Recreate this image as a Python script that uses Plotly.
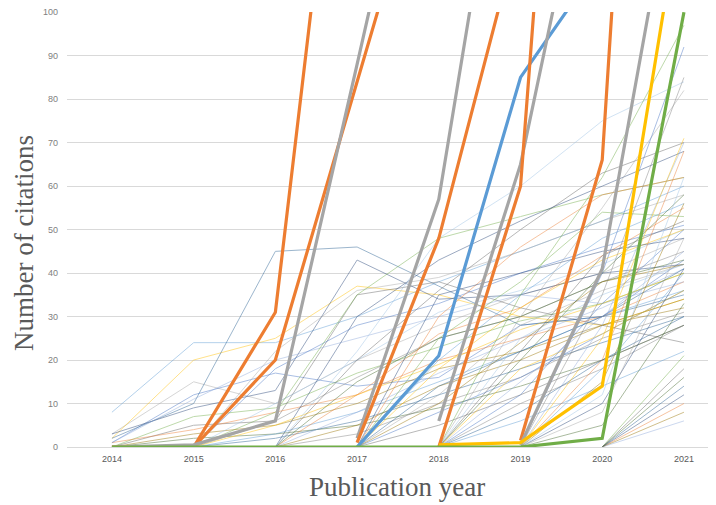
import plotly.graph_objects as go

years = [2014, 2015, 2016, 2017, 2018, 2019, 2020, 2021]
N = None

# thin series (one per publication), values per year
thin_series = [
    [8, 24, 24, 30, 38, 45, 52, 60],
    [3, 15, 10, 20, 28, 35, 40, 48],
    [2, 20, 25, 37, 35, 30, 28, 34],
    [1, 12, 17, 14, 16, 28, 30, 43],
    [0, 7, 9, 17, 23, 29, 33, 40],
    [2, 10, 45, 46, 37, 28, 30, 35],
    [0, 5, 6, 35, 38, 32, 28, 24],
    [1, 4, 8, 12, 20, 25, 30, 38],
    [0, 3, 5, 10, 18, 22, 28, 32],
    [3, 9, 13, 43, 34, 35, 40, 42],
    [1, 11, 20, 25, 30, 35, 33, 38],
    [0, 2, 3, 5, 9, 14, 20, 28],
    [N, 0, 6, 16, 25, 30, 38, 45],
    [N, 0, 10, 20, 31, 36, 42, 50],
    [N, 0, 3, 8, 15, 22, 30, 36],
    [N, 0, 22, 36, 39, 45, 52, 58],
    [N, 0, 5, 12, 19, 27, 33, 40],
    [N, 0, 18, 28, 33, 40, 46, 51],
    [N, 0, 8, 35, 48, 53, 58, 62],
    [N, 0, 2, 6, 12, 18, 24, 30],
    [N, N, 0, 20, 36, 50, 63, 70],
    [N, N, 0, 12, 26, 32, 44, 55],
    [N, N, 0, 5, 14, 20, 28, 34],
    [N, N, 0, 30, 43, 52, 60, 68],
    [N, N, 0, 8, 17, 25, 32, 41],
    [N, N, 0, 15, 25, 30, 38, 43],
    [N, N, 0, 3, 10, 16, 25, 31],
    [N, N, 0, 22, 48, 60, 75, 84],
    [N, N, N, 0, 20, 35, 48, 56],
    [N, N, N, 0, 12, 28, 36, 42],
    [N, N, N, 0, 18, 32, 43, 50],
    [N, N, N, 0, 8, 16, 26, 36],
    [N, N, N, 0, 25, 38, 54, 53],
    [N, N, N, 0, 14, 22, 30, 41],
    [N, N, N, 0, 5, 12, 20, 28],
    [N, N, N, 0, 30, 46, 58, 62],
    [N, N, N, 0, 10, 24, 38, 42],
    [N, N, N, 0, 35, 40, 45, 48],
    [N, N, N, N, 0, 15, 30, 45],
    [N, N, N, N, 0, 20, 40, 58],
    [N, N, N, N, 0, 10, 18, 28],
    [N, N, N, N, 0, 25, 35, 42],
    [N, N, N, N, 0, 6, 14, 22],
    [N, N, N, N, 0, 30, 55, 82],
    [N, N, N, N, 0, 18, 26, 36],
    [N, N, N, N, 0, 12, 33, 50],
    [N, N, N, N, 0, 35, 62, 97],
    [N, N, N, N, 0, 8, 20, 30],
    [N, N, N, N, 0, 22, 44, 52],
    [N, N, N, N, N, 0, 20, 68],
    [N, N, N, N, N, 0, 15, 56],
    [N, N, N, N, N, 0, 10, 41],
    [N, N, N, N, N, 0, 28, 70],
    [N, N, N, N, N, 0, 5, 33],
    [N, N, N, N, N, 0, 35, 85],
    [N, N, N, N, N, 0, 12, 62],
    [N, N, N, N, N, 0, 18, 40],
    [N, N, N, N, N, 0, 8, 48],
    [N, N, N, N, N, 0, 25, 71],
    [N, N, N, N, N, 0, 40, 92],
    [N, N, N, N, N, N, 0, 21],
    [N, N, N, N, N, N, 0, 14],
    [N, N, N, N, N, N, 0, 18],
    [N, N, N, N, N, N, 0, 10],
    [N, N, N, N, N, N, 0, 8],
    [N, N, N, N, N, N, 0, 12],
    [N, N, N, N, N, N, 0, 6],
    [N, N, N, N, N, N, 0, 16],
]

thin_colors = ['#5B9BD5', '#A5A5A5', '#FFC000', '#4472C4', '#70AD47', '#255E91',
               '#636363', '#ED7D31', '#997300', '#264478', '#8FAADC', '#43682B',
               '#7F7F7F', '#9DC3E6']

# highlighted (thick) series
thick_series = [
    ('#ED7D31', [0, 0, 31, 190, 300, 400, 500, 600]),
    ('#ED7D31', [0, 0, 20, 84, 148, 210, 260, 300]),
    ('#A5A5A5', [0, 0.5, 6, 88, 171, 230, 280, 320]),
    ('#A5A5A5', [N, N, N, 2, 57, 171, 240, 300]),
    ('#ED7D31', [N, N, N, 1, 48, 120, 180, 230]),
    ('#5B9BD5', [N, N, N, 0, 21, 85, 112, 150]),
    ('#A5A5A5', [N, N, N, N, 6, 65, 154, 220]),
    ('#ED7D31', [N, N, N, N, 0, 60, 308, 400]),
    ('#ED7D31', [N, N, N, N, N, 1.5, 66, 357]),
    ('#A5A5A5', [N, N, N, N, N, 0.5, 41, 145]),
    ('#FFC000', [N, N, N, N, 0.5, 1, 14, 129]),
    ('#70AD47', [0, 0, 0, 0, 0, 0, 2, 100]),
]

y_ticks = [0, 10, 20, 30, 40, 50, 60, 70, 80, 90, 100]

fig = go.Figure()
for i, s in enumerate(thin_series):
    fig.add_trace(go.Scatter(
        x=years, y=s, mode='lines',
        line=dict(color=thin_colors[i % len(thin_colors)], width=1),
        opacity=0.45, hoverinfo='skip', showlegend=False))

for c, s in thick_series:
    fig.add_trace(go.Scatter(
        x=years, y=s, mode='lines',
        line=dict(color=c, width=3.2),
        hoverinfo='skip', showlegend=False))

# page body has an 8px offset, so margins are given in figure coordinates
OFF = 8
W, H = 716, 505
L, T = 67 - OFF, 12 - OFF
R = W - (715 - OFF)
B = H - (447 - OFF)
pw, ph = W - L - R, H - T - B


def px_x(p):
    return (p - OFF - L) / pw


def px_y(p):
    return (H - B - (p - OFF)) / ph


fig.update_layout(
    width=W, height=H,
    margin=dict(l=L, r=R, t=T, b=B, autoexpand=False),
    paper_bgcolor='white', plot_bgcolor='white',
    xaxis=dict(range=[2013.45, 2021.38], tickvals=years,
               ticktext=[str(y) for y in years], showgrid=False,
               zeroline=False, showline=False, ticks='',
               ticklabelstandoff=5,
               tickfont=dict(family='Liberation Sans, Arial', size=9, color='#595959'),
               fixedrange=True),
    yaxis=dict(range=[0, 100.05], tickvals=y_ticks, showgrid=True,
               gridcolor='#D9D9D9', gridwidth=1, zeroline=True,
               zerolinecolor='#D9D9D9', zerolinewidth=1, ticks='',
               ticklabelstandoff=8, ticklabeloverflow='allow',
               tickfont=dict(family='Liberation Sans, Arial', size=9, color='#808080'),
               fixedrange=True),
    annotations=[
        dict(text='Number of citations', xref='paper', yref='paper',
             x=px_x(24), y=px_y(243), textangle=-90,
             showarrow=False, xanchor='center', yanchor='middle',
             font=dict(family='Liberation Serif, Times New Roman', size=27, color='#595959')),
        dict(text='Publication year', xref='paper', yref='paper',
             x=px_x(397), y=px_y(487),
             showarrow=False, xanchor='center', yanchor='middle',
             font=dict(family='Liberation Serif, Times New Roman', size=27, color='#595959')),
    ],
)

fig.write_html('out.html')
